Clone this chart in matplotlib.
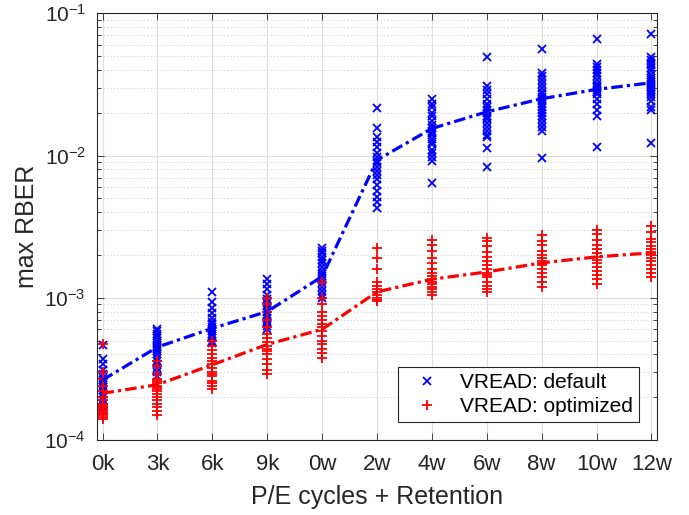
import numpy as np
import matplotlib.pyplot as plt

plt.rcParams['font.family'] = ['Liberation Sans', 'DejaVu Sans']
plt.rcParams['mathtext.fontset'] = 'custom'
plt.rcParams['mathtext.rm'] = 'Liberation Sans'
plt.rcParams['mathtext.it'] = 'Liberation Sans:italic'

stages = ['0k', '3k', '6k', '9k', '0w', '2w', '4w', '6w', '8w', '10w', '12w']

# per-block max RBER samples, VREAD default
vread_default = [
    [4.65e-4, 3.7e-4, 3.4e-4, 3.1e-4, 2.9e-4, 2.75e-4, 2.65e-4, 2.55e-4, 2.45e-4, 2.35e-4,
     2.25e-4, 2.1e-4, 2.0e-4, 1.9e-4, 1.8e-4, 1.7e-4, 1.6e-4],
    [6.0e-4, 5.8e-4, 5.6e-4, 5.4e-4, 5.2e-4, 5.0e-4, 4.8e-4, 4.6e-4, 4.5e-4, 4.4e-4,
     4.2e-4, 4.0e-4, 3.8e-4, 3.6e-4, 3.4e-4, 3.2e-4, 3.0e-4, 2.8e-4],
    [1.1e-3, 9.3e-4, 8.5e-4, 7.8e-4, 7.2e-4, 6.8e-4, 6.5e-4, 6.2e-4, 6.0e-4, 5.8e-4,
     5.6e-4, 5.4e-4, 5.2e-4, 5.0e-4, 4.8e-4],
    [1.35e-3, 1.25e-3, 1.15e-3, 1.05e-3, 9.8e-4, 9.2e-4, 8.8e-4, 8.4e-4, 8.0e-4, 7.6e-4,
     7.2e-4, 6.9e-4, 6.6e-4, 6.3e-4, 6.0e-4],
    [2.25e-3, 2.15e-3, 2.05e-3, 1.95e-3, 1.85e-3, 1.75e-3, 1.65e-3, 1.55e-3, 1.48e-3, 1.42e-3,
     1.35e-3, 1.28e-3, 1.2e-3, 1.12e-3, 1.05e-3, 1.0e-3],
    [0.0215, 0.0155, 0.0135, 0.0125, 0.0115, 0.0105, 0.0098, 0.0092, 0.0088, 0.0083,
     0.0078, 0.0073, 0.0068, 0.0062, 0.0056, 0.0051, 0.0047, 0.0043],
    [0.025, 0.023, 0.022, 0.02, 0.019, 0.0175, 0.0165, 0.0155, 0.015, 0.0145,
     0.014, 0.013, 0.0125, 0.012, 0.011, 0.0105, 0.0098, 0.0092, 0.0064],
    [0.049, 0.031, 0.029, 0.027, 0.025, 0.023, 0.022, 0.021, 0.020, 0.019,
     0.0185, 0.018, 0.017, 0.016, 0.015, 0.014, 0.0135, 0.0113, 0.0083],
    [0.056, 0.038, 0.036, 0.034, 0.032, 0.030, 0.028, 0.027, 0.026, 0.025,
     0.024, 0.023, 0.022, 0.021, 0.020, 0.019, 0.018, 0.017, 0.016, 0.015, 0.0096],
    [0.066, 0.044, 0.042, 0.040, 0.038, 0.036, 0.034, 0.032, 0.031, 0.030,
     0.029, 0.028, 0.027, 0.025, 0.023, 0.021, 0.019, 0.0115],
    [0.071, 0.049, 0.047, 0.045, 0.043, 0.041, 0.039, 0.037, 0.035, 0.034, 0.033,
     0.032, 0.031, 0.030, 0.029, 0.028, 0.027, 0.026, 0.024, 0.022, 0.021, 0.0123],
]

# per-block max RBER samples, VREAD optimized
vread_optimized = [
    [4.7e-4, 3.0e-4, 2.7e-4, 2.4e-4, 2.2e-4, 2.0e-4, 1.9e-4, 1.8e-4, 1.75e-4, 1.7e-4,
     1.65e-4, 1.6e-4, 1.55e-4, 1.5e-4, 1.45e-4, 1.4e-4],
    [3.6e-4, 3.3e-4, 2.9e-4, 2.7e-4, 2.6e-4, 2.5e-4, 2.4e-4, 2.35e-4, 2.3e-4, 2.2e-4,
     2.1e-4, 2.0e-4, 1.9e-4, 1.8e-4, 1.7e-4, 1.6e-4, 1.5e-4],
    [5.0e-4, 4.6e-4, 4.3e-4, 4.0e-4, 3.8e-4, 3.6e-4, 3.4e-4, 3.2e-4, 3.0e-4, 2.9e-4,
     2.8e-4, 2.6e-4, 2.5e-4, 2.4e-4, 2.3e-4],
    [1.0e-3, 9.0e-4, 8.0e-4, 7.0e-4, 6.2e-4, 5.6e-4, 5.2e-4, 4.9e-4, 4.6e-4, 4.4e-4,
     4.2e-4, 4.0e-4, 3.7e-4, 3.4e-4, 3.1e-4, 2.9e-4],
    [1.3e-3, 1.0e-3, 9.0e-4, 8.0e-4, 7.5e-4, 7.0e-4, 6.5e-4, 6.2e-4, 5.8e-4, 5.4e-4,
     5.0e-4, 4.7e-4, 4.4e-4, 4.1e-4, 3.8e-4],
    [2.25e-3, 1.9e-3, 1.6e-3, 1.3e-3, 1.22e-3, 1.16e-3, 1.1e-3, 1.05e-3, 1.0e-3, 9.7e-4, 9.5e-4],
    [2.55e-3, 2.35e-3, 2.15e-3, 1.9e-3, 1.75e-3, 1.6e-3, 1.5e-3, 1.42e-3, 1.35e-3, 1.3e-3,
     1.25e-3, 1.2e-3, 1.15e-3, 1.1e-3, 1.05e-3],
    [2.65e-3, 2.5e-3, 2.3e-3, 2.1e-3, 1.95e-3, 1.8e-3, 1.7e-3, 1.6e-3, 1.5e-3, 1.45e-3,
     1.4e-3, 1.3e-3, 1.22e-3, 1.15e-3, 1.1e-3],
    [2.75e-3, 2.5e-3, 2.35e-3, 2.15e-3, 2.0e-3, 1.9e-3, 1.82e-3, 1.75e-3, 1.7e-3, 1.6e-3,
     1.5e-3, 1.4e-3, 1.3e-3, 1.2e-3],
    [3.0e-3, 2.8e-3, 2.55e-3, 2.35e-3, 2.2e-3, 2.05e-3, 1.95e-3, 1.85e-3, 1.75e-3, 1.65e-3,
     1.55e-3, 1.45e-3, 1.35e-3, 1.25e-3],
    [3.2e-3, 2.9e-3, 2.6e-3, 2.45e-3, 2.3e-3, 2.2e-3, 2.1e-3, 2.05e-3, 2.0e-3, 1.9e-3,
     1.8e-3, 1.7e-3, 1.6e-3, 1.5e-3, 1.4e-3],
]

# average curves
default_avg = [2.64e-4, 4.5e-4, 6.1e-4, 8.0e-4, 1.41e-3, 9.3e-3, 0.0155, 0.0203, 0.0251, 0.0292, 0.0325]
optimized_avg = [2.13e-4, 2.45e-4, 3.38e-4, 4.7e-4, 6.0e-4, 1.1e-3, 1.35e-3, 1.52e-3, 1.76e-3, 1.94e-3, 2.07e-3]

dark = (0.15, 0.15, 0.15)

fig = plt.figure(figsize=(6.89, 5.15), dpi=100)
ax = fig.add_axes([0.1408, 0.1456, 0.8127, 0.8285])

x = np.arange(len(stages))
for i in range(len(stages)):
    ax.plot(np.full(len(vread_default[i]), i), vread_default[i], 'x', color='b',
            ms=5.5, mew=1.3, label='VREAD: default' if i == 0 else None)
for i in range(len(stages)):
    ax.plot(np.full(len(vread_optimized[i]), i), vread_optimized[i], '+', color='r',
            ms=7.5, mew=1.3, label='VREAD: optimized' if i == 0 else None)

ax.plot(x, default_avg, color='b', lw=2.3, dashes=(3.6, 1.3, 1.0, 1.3))
ax.plot(x, optimized_avg, color='r', lw=2.3, dashes=(3.6, 1.3, 1.0, 1.3))

ax.set_yscale('log')
ax.set_ylim(1e-4, 1e-1)
ax.set_xlim(-0.1, 10.1)
ax.set_xticks(x)
ax.set_xticklabels(stages)

ax.tick_params(which='both', direction='in', top=True, right=True, colors=dark,
               width=0.6)
ax.tick_params(axis='x', labelsize=16, pad=10)
ax.tick_params(axis='y', labelsize=15, pad=8)
ax.tick_params(which='major', length=5)
ax.tick_params(which='minor', length=3)
ax.tick_params(axis='x', which='minor', bottom=False, top=False)
for s in ax.spines.values():
    s.set_color(dark)
    s.set_linewidth(0.8)

ax.grid(which='major', color=(0.87, 0.87, 0.87), lw=0.8)
ax.grid(which='minor', axis='y', color=(0.75, 0.75, 0.75), ls=(0, (1, 3)), lw=0.6)
ax.set_axisbelow(True)

ax.set_xlabel('P/E cycles + Retention', fontsize=18, color=dark, labelpad=7)
ax.set_ylabel('max RBER', fontsize=18, color=dark, labelpad=4)

leg = ax.legend(loc='lower right', fontsize=15, fancybox=False, framealpha=1,
                edgecolor=dark, handlelength=2.2, handletextpad=0.5,
                borderaxespad=0.85, labelspacing=0.25, borderpad=0.3)
leg.get_frame().set_linewidth(0.8)

fig.savefig('out.png', dpi=100)
